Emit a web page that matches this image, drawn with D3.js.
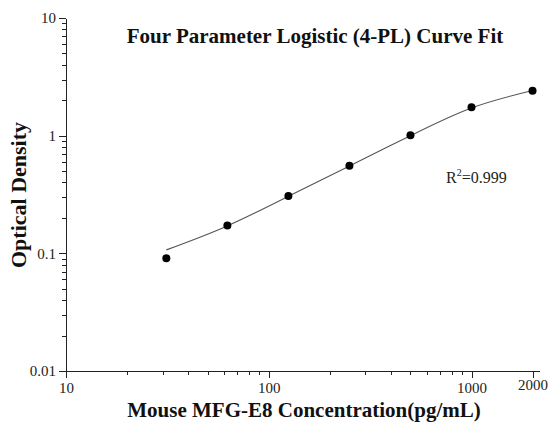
<!doctype html>
<html lang="en">
<head>
<meta charset="UTF-8">
<title>4-PL Curve Fit</title>
<style>
  body { margin: 0; background: #fff; }
  svg { font-family: "Liberation Serif", "Times New Roman", serif; }
  .axis path, .axis line { stroke: #222; shape-rendering: crispEdges; }
</style>
</head>
<body>
<script src="https://cdn.jsdelivr.net/npm/d3@7"></script>
<script>
var concentrations = [31.25, 62.5, 125, 250, 500, 1000, 2000];
var densities = [0.0908, 0.172, 0.307, 0.556, 1.01, 1.74, 2.41];
// fitted curve
var curveX = [31.25, 62.5, 125, 250, 500, 1000, 2000];
var curveY = [0.107, 0.171, 0.305, 0.553, 1.0, 1.72, 2.42];
var xTicks = [10, 100, 1000, 2000];
var yTicks = [0.01, 0.1, 1, 10];

var width = 550, height = 423;
var serif = "'Liberation Serif', 'Times New Roman', serif";

var svg = d3.select("body").append("svg")
  .attr("width", width)
  .attr("height", height);

var x = d3.scaleLog().domain([10, 1000]).range([66, 471.5]);
var y = d3.scaleLog().domain([0.01, 10]).range([371, 18]);

function minors(lo, hi) {
  var out = [];
  for (var p = lo; p < hi; p *= 10) {
    for (var k = 2; k <= 9; k++) out.push(p * k);
  }
  return out;
}

function styleTicks(g) {
  g.attr("font-family", serif).attr("font-size", 15);
  g.selectAll("text").attr("fill", "#222");
}

// y axis
svg.append("g").attr("class", "axis")
  .attr("transform", "translate(66,0)")
  .call(d3.axisLeft(y).tickValues(minors(0.01, 10)).tickSize(4).tickFormat(""))
  .call(function(g){ g.select(".domain").remove(); });
svg.append("g").attr("class", "axis")
  .attr("transform", "translate(66,0)")
  .call(d3.axisLeft(y).tickValues(yTicks).tickSize(7).tickSizeOuter(0)
    .tickFormat(function(d){ return d >= 1 ? String(d) : d3.format(".2~f")(d); }))
  .call(styleTicks);

// x axis
var xMinor = minors(10, 1000).filter(function(d){ return xTicks.indexOf(d) < 0; });
svg.append("g").attr("class", "axis")
  .attr("transform", "translate(0,371)")
  .call(d3.axisBottom(x).tickValues(xMinor).tickSize(4).tickFormat(""))
  .call(function(g){ g.select(".domain").remove(); });
var xa = svg.append("g").attr("class", "axis")
  .attr("transform", "translate(0,371)")
  .call(d3.axisBottom(x).tickValues(xTicks).tickSize(7).tickSizeOuter(0).tickFormat(d3.format("d")))
  .call(styleTicks);
xa.select(".domain").attr("d", "M66,0H540");
xa.selectAll(".tick text").attr("dy", "0.8em");
xa.selectAll(".tick").filter(function(d){ return d === 2000; })
  .select("text").attr("dy", "0.6em");

// curve
var line = d3.line()
  .x(function(d){ return x(d[0]); })
  .y(function(d){ return y(d[1]); })
  .curve(d3.curveNatural);
svg.append("path")
  .datum(d3.zip(curveX, curveY))
  .attr("d", line)
  .attr("fill", "none")
  .attr("stroke", "#555")
  .attr("stroke-width", 1.1);

// points
svg.selectAll("circle.pt")
  .data(d3.zip(concentrations, densities))
  .enter().append("circle")
  .attr("class", "pt")
  .attr("cx", function(d){ return x(d[0]); })
  .attr("cy", function(d){ return y(d[1]); })
  .attr("r", 4)
  .attr("fill", "#000");

// title
svg.append("text")
  .attr("x", 315).attr("y", 43)
  .attr("text-anchor", "middle")
  .attr("font-size", 21).attr("font-weight", "bold")
  .attr("fill", "#111")
  .text("Four Parameter Logistic (4-PL) Curve Fit");

// axis titles
svg.append("text")
  .attr("transform", "translate(26,195) rotate(-90)")
  .attr("text-anchor", "middle")
  .attr("font-size", 22).attr("font-weight", "bold")
  .attr("fill", "#111")
  .text("Optical Density");
svg.append("text")
  .attr("x", 304).attr("y", 417)
  .attr("text-anchor", "middle")
  .attr("font-size", 21).attr("font-weight", "bold")
  .attr("fill", "#111")
  .text("Mouse MFG-E8 Concentration(pg/mL)");

// R squared
var r2 = svg.append("text")
  .attr("x", 446).attr("y", 183)
  .attr("font-size", 16).attr("fill", "#222");
r2.append("tspan").text("R");
r2.append("tspan").attr("dy", -7).attr("font-size", 10).text("2");
r2.append("tspan").attr("dy", 7).text("=0.999");
</script>
</body>
</html>
